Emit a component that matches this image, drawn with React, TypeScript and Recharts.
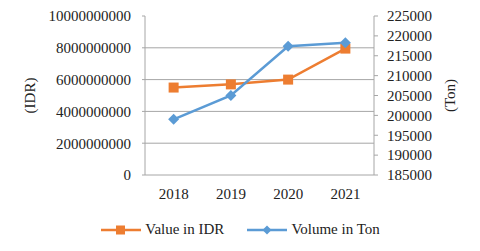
import React from "react";
import { LineChart, Line, XAxis, YAxis, CartesianGrid, Legend } from "recharts";

const years = ["2018", "2019", "2020", "2021"];
const valueIDR = [5500000000, 5700000000, 6000000000, 7950000000];
const volumeTon = [199000, 205000, 217400, 218300];
const leftTicks = [0, 2000000000, 4000000000, 6000000000, 8000000000, 10000000000];
const rightTicks = [185000, 190000, 195000, 200000, 205000, 210000, 215000, 220000, 225000];
const boundaryTicks = [0, 1, 2, 3, 4];

const data = years.map((y, i) => ({ year: y, pos: i + 0.5, idr: valueIDR[i], ton: volumeTon[i] }));

const ORANGE = "#ED7D31";
const BLUE = "#5B9BD5";
const FONT = "'Liberation Serif', 'Times New Roman', Times, 'DejaVu Serif', serif";

const renderDiamond = (props: any) => {
  const { cx, cy, index } = props;
  if (cx == null || cy == null) return <g key={`d${index}`} />;
  const r = 5.5;
  return <path key={`d${index}`} d={`M${cx},${cy - r}L${cx + r},${cy}L${cx},${cy + r}L${cx - r},${cy}Z`} fill={BLUE} />;
};
const renderSquare = (props: any) => {
  const { cx, cy, index } = props;
  if (cx == null || cy == null) return <g key={`s${index}`} />;
  const r = 5;
  return <rect key={`s${index}`} x={cx - r} y={cy - r} width={2 * r} height={2 * r} fill={ORANGE} />;
};

const LegendContent = () => (
  <div style={{ display: "flex", justifyContent: "center", fontFamily: FONT, fontSize: 15, color: "#222" }}>
    <div style={{ display: "flex", alignItems: "center", marginRight: 22 }}>
      <svg width={42} height={12}>
        <line x1={1} y1={6} x2={41} y2={6} stroke={ORANGE} strokeWidth={2.5} />
        <rect x={16} y={1.5} width={9} height={9} fill={ORANGE} />
      </svg>
      <span style={{ marginLeft: 3 }}>Value in IDR</span>
    </div>
    <div style={{ display: "flex", alignItems: "center" }}>
      <svg width={42} height={12}>
        <line x1={1} y1={6} x2={41} y2={6} stroke={BLUE} strokeWidth={2.5} />
        <path d="M21,1.5L25.5,6L21,10.5L16.5,6Z" fill={BLUE} />
      </svg>
      <span style={{ marginLeft: 3 }}>Volume in Ton</span>
    </div>
  </div>
);

export default function App() {
  const tickStyle = { fontSize: 15, fill: "#222", fontFamily: FONT };
  return (
    <div style={{ position: "absolute", left: 0, top: 0, width: 480, height: 251, background: "#fff", fontFamily: FONT }}>
      <LineChart width={480} height={251} data={data} margin={{ top: 16, right: 0, left: 0, bottom: 46 }} style={{ fontFamily: FONT }}>
        <CartesianGrid yAxisId="left" xAxisId="grid" vertical={false} horizontalValues={[0, 2000000000, 4000000000, 6000000000, 8000000000]} stroke="#a6a6a6" strokeWidth={1} />
        <XAxis xAxisId="grid" type="number" dataKey="pos" domain={[0, 4]} ticks={boundaryTicks} tick={false} height={0} axisLine={{ stroke: "#a6a6a6" }} tickLine={{ stroke: "#a6a6a6" }} tickSize={7} />
        <XAxis xAxisId="cat" dataKey="year" scale="band" height={30} axisLine={false} tickLine={false} tick={tickStyle} tickMargin={7} />
        <YAxis yAxisId="left" domain={[0, 10000000000]} ticks={leftTicks} interval={0} width={145} tick={tickStyle} axisLine={{ stroke: "#a6a6a6" }} tickLine={{ stroke: "#a6a6a6" }} tickSize={3} tickMargin={11}
          label={{ value: "(IDR)", angle: -90, position: "insideLeft", offset: 30, style: { fontSize: 15, fill: "#222", textAnchor: "middle", fontFamily: FONT } }} />
        <YAxis yAxisId="right" orientation="right" domain={[185000, 225000]} ticks={rightTicks} interval={0} width={106} tick={tickStyle} axisLine={{ stroke: "#a6a6a6" }} tickLine={{ stroke: "#a6a6a6" }} tickSize={4} tickMargin={9}
          label={{ value: "(Ton)", angle: -90, position: "insideRight", offset: 30, style: { fontSize: 15, fill: "#222", textAnchor: "middle", fontFamily: FONT } }} />
        <Line xAxisId="cat" yAxisId="left" dataKey="idr" stroke={ORANGE} strokeWidth={2.5} dot={renderSquare} activeDot={false} isAnimationActive={false} />
        <Line xAxisId="cat" yAxisId="right" dataKey="ton" stroke={BLUE} strokeWidth={2.5} dot={renderDiamond} activeDot={false} isAnimationActive={false} />
        <Legend verticalAlign="middle" layout="horizontal" content={<LegendContent />} wrapperStyle={{ position: "absolute", top: 221, left: 0, width: 480 }} />
      </LineChart>
    </div>
  );
}
